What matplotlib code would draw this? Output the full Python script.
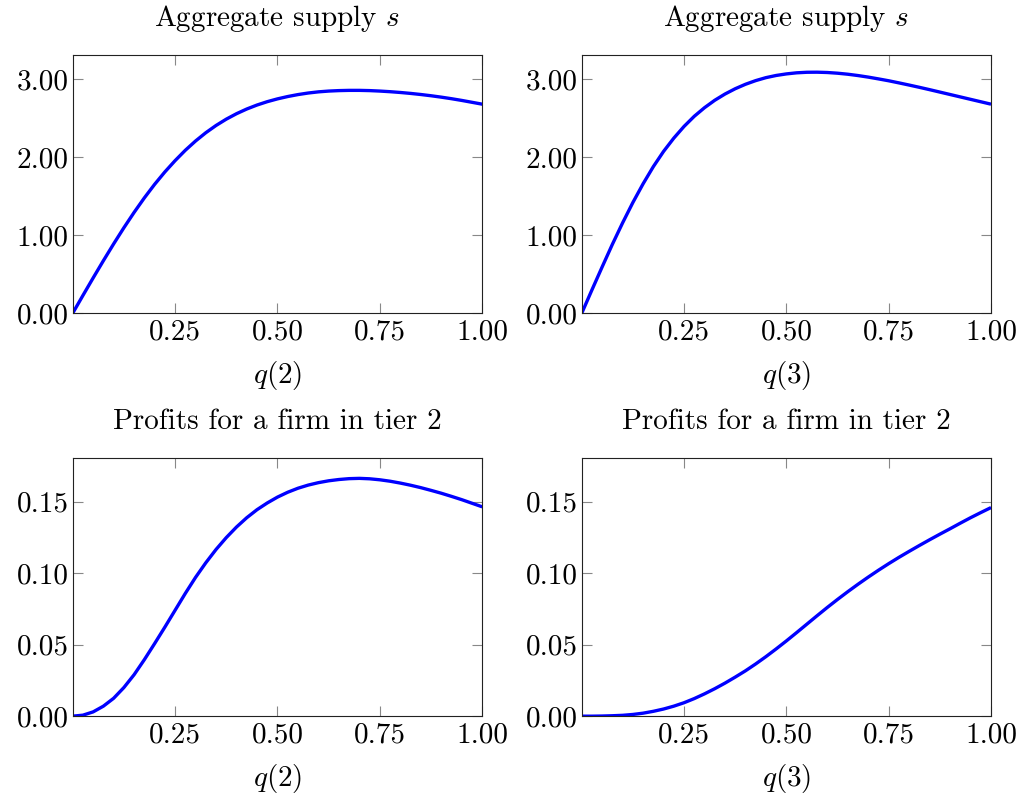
import matplotlib
matplotlib.use("Agg")
import matplotlib.pyplot as plt
from matplotlib.ticker import FixedLocator, FormatStrFormatter

plt.rcParams['font.family'] = ['cmr10', 'DejaVu Serif']
plt.rcParams['mathtext.fontset'] = 'cm'
plt.rcParams['axes.unicode_minus'] = False
plt.rcParams['axes.formatter.use_mathtext'] = True

# ---- data ----
q = [0.000, 0.025, 0.050, 0.075, 0.100, 0.125, 0.150, 0.175, 0.200, 0.225,
     0.250, 0.275, 0.300, 0.325, 0.350, 0.375, 0.400, 0.425, 0.450, 0.475,
     0.500, 0.525, 0.550, 0.575, 0.600, 0.625, 0.650, 0.675, 0.700, 0.725,
     0.750, 0.775, 0.800, 0.825, 0.850, 0.875, 0.900, 0.925, 0.950, 0.975,
     1.000]

supply_q2 = [0.000, 0.228, 0.453, 0.674, 0.889, 1.096, 1.293, 1.479, 1.652, 1.811,
             1.956, 2.089, 2.208, 2.314, 2.407, 2.488, 2.558, 2.618, 2.669, 2.712,
             2.748, 2.778, 2.803, 2.823, 2.838, 2.848, 2.854, 2.857, 2.857, 2.854,
             2.848, 2.840, 2.830, 2.818, 2.804, 2.788, 2.770, 2.750, 2.728, 2.704,
             2.680]
supply_q3 = [0.000, 0.300, 0.595, 0.885, 1.160, 1.420, 1.660, 1.880, 2.075, 2.245,
             2.395, 2.525, 2.635, 2.730, 2.810, 2.878, 2.935, 2.982, 3.020, 3.048,
             3.068, 3.082, 3.089, 3.090, 3.086, 3.077, 3.064, 3.047, 3.027, 3.004,
             2.980, 2.953, 2.925, 2.896, 2.866, 2.835, 2.804, 2.773, 2.742, 2.711,
             2.680]
profit_q2 = [0.0000, 0.0007, 0.0030, 0.0070, 0.0125, 0.0200, 0.0290, 0.0395, 0.0507, 0.0622,
             0.0740, 0.0858, 0.0970, 0.1072, 0.1165, 0.1248, 0.1322, 0.1387, 0.1443, 0.1490,
             0.1531, 0.1565, 0.1593, 0.1615, 0.1632, 0.1645, 0.1654, 0.1660, 0.1662, 0.1659,
             0.1652, 0.1642, 0.1629, 0.1614, 0.1597, 0.1578, 0.1558, 0.1536, 0.1513, 0.1488,
             0.1463]
profit_q3 = [0.0000, 0.0000, 0.0001, 0.0003, 0.0006, 0.0012, 0.0021, 0.0034, 0.0050, 0.0070,
             0.0094, 0.0123, 0.0156, 0.0192, 0.0231, 0.0273, 0.0317, 0.0365, 0.0416, 0.0470,
             0.0526, 0.0584, 0.0643, 0.0702, 0.0760, 0.0816, 0.0870, 0.0922, 0.0972, 0.1020,
             0.1066, 0.1110, 0.1152, 0.1193, 0.1233, 0.1272, 0.1310, 0.1349, 0.1387, 0.1423,
             0.1458]

titles = ["Aggregate supply $s$", "Aggregate supply $s$",
          "Profits for a firm in tier 2", "Profits for a firm in tier 2"]
xlabels = ["$q(2)$", "$q(3)$", "$q(2)$", "$q(3)$"]
series = [supply_q2, supply_q3, profit_q2, profit_q3]
xticks = [0.25, 0.50, 0.75, 1.00]
yticks_top = [0.0, 1.0, 2.0, 3.0]
yticks_bot = [0.00, 0.05, 0.10, 0.15]

fig = plt.figure(figsize=(10.22, 8.01), dpi=100)
positions = [
    [0.0711, 0.6089, 0.4008, 0.3224],
    [0.5692, 0.6089, 0.4005, 0.3224],
    [0.0711, 0.1059, 0.4008, 0.3219],
    [0.5692, 0.1059, 0.4005, 0.3219],
]
FS = 21
for i in range(4):
    ax = fig.add_axes(positions[i])
    ax.plot(q, series[i], color='#0000ff', linewidth=2.4,
            solid_capstyle='butt', solid_joinstyle='round')
    ax.set_xlim(0, 1)
    if i < 2:
        ax.set_ylim(0, 3.31)
        ax.yaxis.set_major_locator(FixedLocator(yticks_top))
    else:
        ax.set_ylim(0, 0.1802)
        ax.yaxis.set_major_locator(FixedLocator(yticks_bot))
    ax.yaxis.set_major_formatter(FormatStrFormatter('%.2f'))
    ax.xaxis.set_major_locator(FixedLocator(xticks))
    ax.xaxis.set_major_formatter(FormatStrFormatter('%.2f'))
    ax.tick_params(direction='in', length=7.5, width=0.8, color='#888888',
                   top=True, right=True, labelsize=FS, pad=4)
    ax.tick_params(axis='y', pad=3)
    for sp in ax.spines.values():
        sp.set_linewidth(0.8)
        sp.set_color('#222222')
    ax.set_title(titles[i], fontsize=FS, pad=21)
    ax.set_xlabel(xlabels[i], fontsize=FS, labelpad=10)

fig.savefig("out.png", dpi=100)
